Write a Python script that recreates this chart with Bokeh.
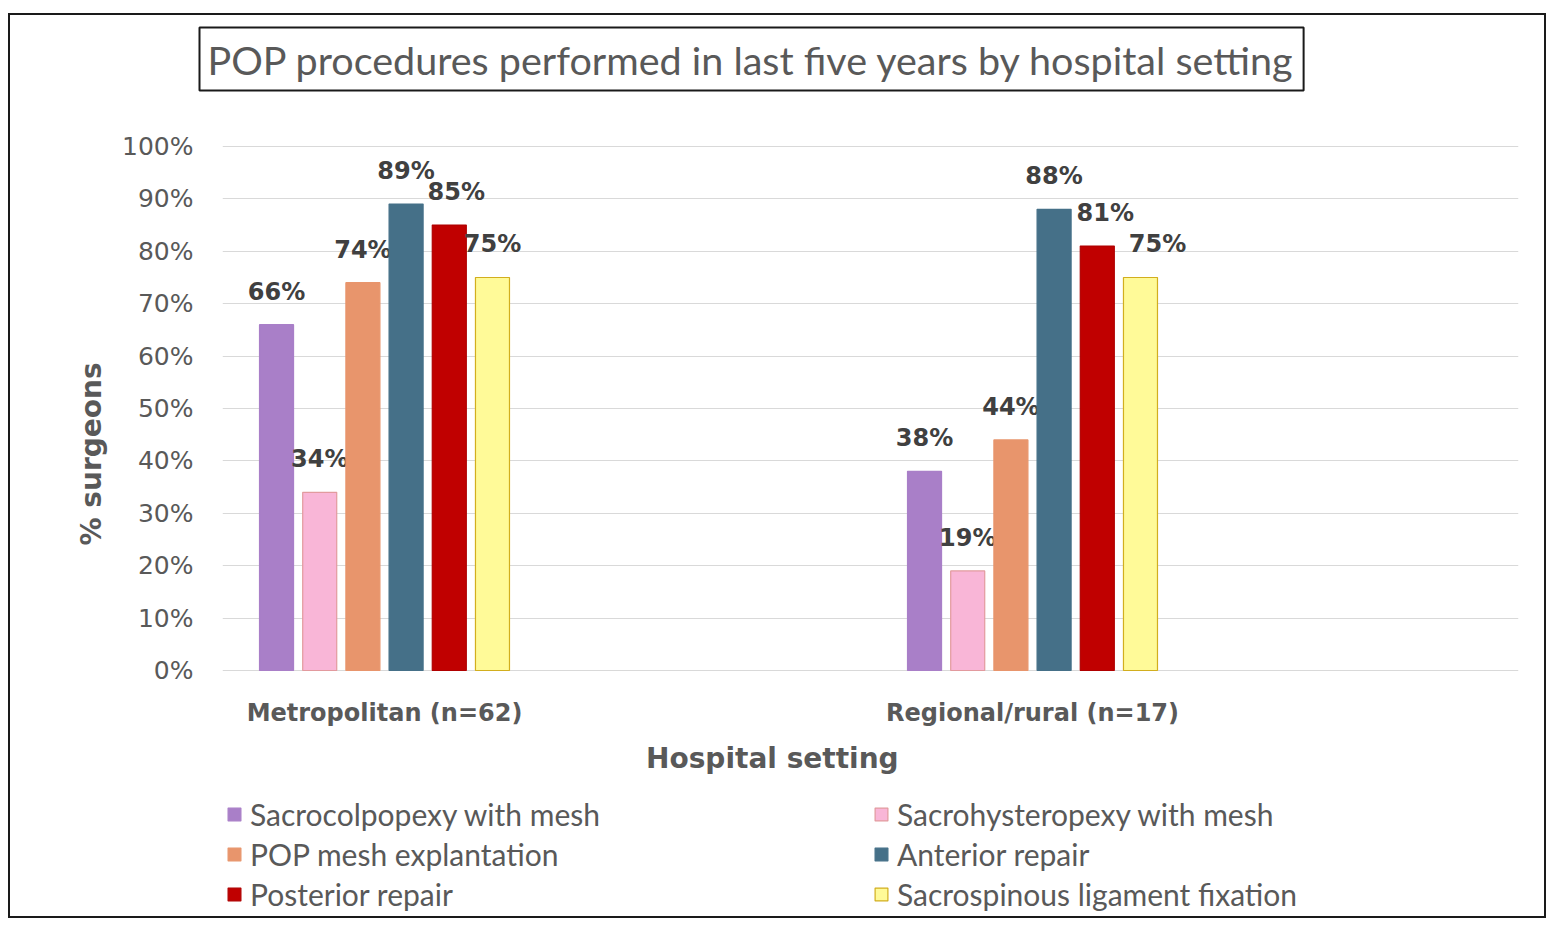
from bokeh.plotting import figure
from bokeh.models import (FactorRange, Range1d, FixedTicker, Legend, LegendItem,
                          Title, Label, ColumnDataSource)
from bokeh.transform import dodge
from bokeh.core.properties import value
from bokeh.embed import file_html
from bokeh.resources import INLINE

# ---------------- data ----------------
categories = ["Metropolitan (n=62)", "Regional/rural (n=17)"]
series = ["Sacrocolpopexy with mesh", "Sacrohysteropexy with mesh",
          "POP mesh explantation", "Anterior repair", "Posterior repair",
          "Sacrospinous ligament fixation"]
sacrocolpopexy = [66, 38]
sacrohysteropexy = [34, 19]
mesh_explantation = [74, 44]
anterior_repair = [89, 88]
posterior_repair = [85, 81]
sacrospinous_fixation = [75, 75]
y_ticks = [0, 10, 20, 30, 40, 50, 60, 70, 80, 90, 100]
y_tick_labels = ["0%", "10%", "20%", "30%", "40%", "50%", "60%", "70%", "80%", "90%", "100%"]

values = [sacrocolpopexy, sacrohysteropexy, mesh_explantation,
          anterior_repair, posterior_repair, sacrospinous_fixation]

# ---------------- styles ----------------
fill_colors = ["#A97FC8", "#F9B6D7", "#E8956C", "#457088", "#C00000", "#FFFA98"]
line_colors = ["#A97FC8", "#E29A9E", "#E8956C", "#457088", "#B00000", "#D2AE1E"]
label_nudge_px = [[0, 0], [0, 0], [0, 0], [0, 0], [7, 8], [0, 17]]
grey = "#595959"

factors = [categories[0], " ", categories[1], "  "]

p = figure(x_range=FactorRange(factors=factors, range_padding=0, factor_padding=0),
           y_range=Range1d(-46.95, 109.73),
           width=1534, height=901,
           output_backend="svg", toolbar_location=None,
           min_border_left=212, min_border_right=26,
           min_border_top=80, min_border_bottom=0)
p.margin = (15, 0, 0, 10)
p.styles = {"outline": "2px solid #1a1a1a"}
p.outline_line_color = None
p.background_fill_color = "white"
p.border_fill_color = "white"

pitch = 0.1333
bar_w = 0.105
renderers = []
for i, (name, vals) in enumerate(zip(series, values)):
    src = ColumnDataSource(dict(cat=categories, val=vals,
                                lab=[f"{v}%" for v in vals],
                                dx=label_nudge_px[i]))
    off = (i - 2.5) * pitch
    r = p.vbar(x=dodge("cat", off, range=p.x_range), top="val", width=bar_w,
               source=src, fill_color=fill_colors[i], line_color=line_colors[i],
               line_width=1.2)
    renderers.append(r)
    p.text(x=dodge("cat", off, range=p.x_range), y="val", text="lab", source=src,
           x_offset="dx", text_align="center", text_baseline="alphabetic", y_offset=-33,
           text_font=value("DejaVu Sans"), text_font_style="bold",
           text_font_size="24px", text_color="#404040")

# category labels under the 0% line
cat_src = ColumnDataSource(dict(cat=categories, y=[0] * len(categories)))
p.text(x="cat", y="y", text="cat", source=cat_src, text_align="center",
       text_baseline="middle", y_offset=43, text_font=value("DejaVu Sans"),
       text_font_style="bold", text_font_size="24px", text_color=grey)

# axes
p.xaxis.visible = False
p.yaxis.ticker = FixedTicker(ticks=y_ticks)
p.yaxis.major_label_overrides = {t: l for t, l in zip(y_ticks, y_tick_labels)}
p.yaxis.axis_line_color = None
p.yaxis.major_tick_line_color = None
p.yaxis.minor_tick_line_color = None
p.yaxis.major_label_standoff = 23
p.yaxis.major_label_text_font = "DejaVu Sans"
p.yaxis.major_label_text_font_size = "25px"
p.yaxis.major_label_text_color = grey

p.xgrid.visible = False
p.ygrid.ticker = FixedTicker(ticks=y_ticks)
p.ygrid.grid_line_color = "#d9d9d9"
p.ygrid.grid_line_width = 1

# chart title in a box
p.title = Title(text="POP procedures performed in last five years by hospital setting",
                align="left", offset=-23, standoff=10,
                text_font="Lato", text_font_style="normal", text_font_size="39.5px",
                text_color=grey, border_line_color="#1a1a1a", border_line_width=2,
                background_fill_color="white", padding=8)

# axis titles
p.add_layout(Label(x=1.697, y=-16.8, text="Hospital setting",
                   text_align="center", text_baseline="middle",
                   text_font="DejaVu Sans", text_font_style="bold",
                   text_font_size="28px", text_color=grey))
p.add_layout(Title(text="% surgeons", align="left", offset=371,
                   text_font="DejaVu Sans", text_font_style="bold",
                   text_font_size="28px", text_color=grey, standoff=24), "left")

# legend: two columns
def make_legend(idx, loc):
    return Legend(items=[LegendItem(label=series[i], renderers=[renderers[i]]) for i in idx],
                  location=loc, orientation="vertical",
                  glyph_width=16, glyph_height=16, label_height=24, spacing=4,
                  padding=0, margin=0, border_line_color=None, background_fill_alpha=0,
                  label_text_font="Lato", label_text_font_size="30px",
                  label_text_color=grey, label_standoff=8)

p.add_layout(make_legend([0, 2, 4], (4, 4)))
p.add_layout(make_legend([1, 3, 5], (651, 4)))

open("out.html", "w").write(file_html(p, INLINE))
